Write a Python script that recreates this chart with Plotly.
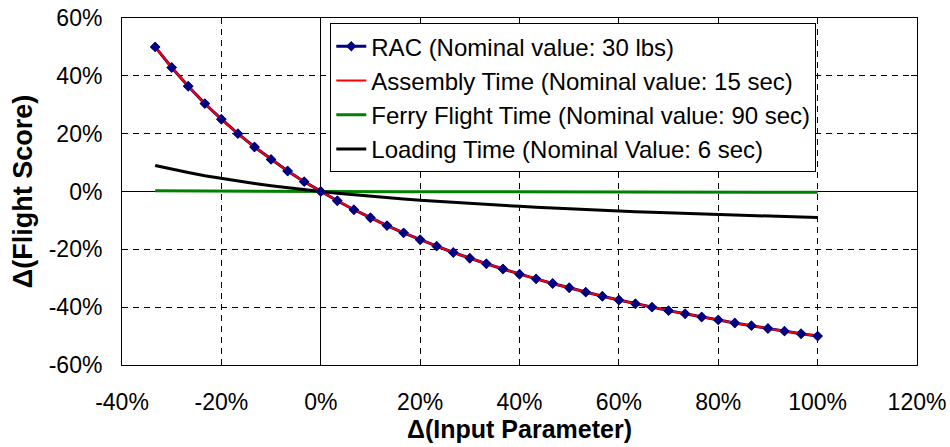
import plotly.graph_objects as go

# Relative change of each input parameter (%)
input_change = [
    -33.33, -30.0, -26.67, -23.33, -20.0, -16.67, -13.33, -10.0, -6.67, -3.33,
    0.0, 3.33, 6.67, 10.0, 13.33, 16.67, 20.0, 23.33, 26.67, 30.0,
    33.33, 36.67, 40.0, 43.33, 46.67, 50.0, 53.33, 56.67, 60.0, 63.33,
    66.67, 70.0, 73.33, 76.67, 80.0, 83.33, 86.67, 90.0, 93.33, 96.67, 100.0,
]

# Resulting change of the flight score (%)
rac = [
    50.0, 42.9, 36.4, 30.4, 25.0, 20.0, 15.4, 11.1, 7.1, 3.4,
    0.0, -3.2, -6.3, -9.1, -11.8, -14.3, -16.7, -18.9, -21.1, -23.1,
    -25.0, -26.8, -28.6, -30.2, -31.8, -33.3, -34.8, -36.2, -37.5, -38.8,
    -40.0, -41.2, -42.3, -43.4, -44.4, -45.5, -46.4, -47.4, -48.3, -49.2, -50.0,
]
assembly_time = [
    50.0, 42.9, 36.4, 30.4, 25.0, 20.0, 15.4, 11.1, 7.1, 3.4,
    0.0, -3.2, -6.3, -9.1, -11.8, -14.3, -16.7, -18.9, -21.1, -23.1,
    -25.0, -26.8, -28.6, -30.2, -31.8, -33.3, -34.8, -36.2, -37.5, -38.8,
    -40.0, -41.2, -42.3, -43.4, -44.4, -45.5, -46.4, -47.4, -48.3, -49.2, -50.0,
]
ferry_flight_time = [
    0.25, 0.21, 0.18, 0.15, 0.13, 0.10, 0.08, 0.06, 0.04, 0.02,
    0.0, -0.02, -0.03, -0.05, -0.06, -0.07, -0.08, -0.09, -0.11, -0.12,
    -0.13, -0.13, -0.14, -0.15, -0.16, -0.17, -0.17, -0.18, -0.19, -0.19,
    -0.20, -0.21, -0.21, -0.22, -0.22, -0.23, -0.23, -0.24, -0.24, -0.25, -0.25,
]
loading_time = [
    9.00, 7.72, 6.55, 5.47, 4.50, 3.60, 2.77, 2.00, 1.28, 0.62,
    0.0, -0.58, -1.13, -1.64, -2.12, -2.57, -3.00, -3.40, -3.80, -4.15,
    -4.50, -4.83, -5.14, -5.44, -5.73, -6.00, -6.26, -6.51, -6.75, -6.98,
    -7.20, -7.41, -7.62, -7.81, -8.00, -8.18, -8.36, -8.53, -8.69, -8.85, -9.00,
]

series_names = [
    "RAC (Nominal value: 30 lbs)",
    "Assembly Time (Nominal value: 15 sec)",
    "Ferry Flight Time (Nominal value: 90 sec)",
    "Loading Time (Nominal Value: 6 sec)",
]

# Axis ticks and their labels (plain hyphen for negatives)
x_ticks = [-40, -20, 0, 20, 40, 60, 80, 100, 120]
x_tick_labels = ["-40%", "-20%", "0%", "20%", "40%", "60%", "80%", "100%", "120%"]
y_ticks = [-60, -40, -20, 0, 20, 40, 60]
y_tick_labels = ["-60%", "-40%", "-20%", "0%", "20%", "40%", "60%"]

NAVY = "#000080"
FONT = "Arial, Liberation Sans, sans-serif"

fig = go.Figure()

fig.add_trace(go.Scatter(
    x=input_change, y=rac, name=series_names[0], mode="lines+markers",
    line=dict(color=NAVY, width=3),
    marker=dict(symbol="diamond", size=8, color=NAVY),
))
fig.add_trace(go.Scatter(
    x=input_change, y=assembly_time, name=series_names[1], mode="lines",
    line=dict(color="#FF0000", width=2),
))
fig.add_trace(go.Scatter(
    x=input_change, y=ferry_flight_time, name=series_names[2], mode="lines",
    line=dict(color="#008000", width=3),
))
fig.add_trace(go.Scatter(
    x=input_change, y=loading_time, name=series_names[3], mode="lines",
    line=dict(color="#000000", width=3),
))
# RAC markers redrawn above the red line
fig.add_trace(go.Scatter(
    x=input_change, y=rac, mode="markers", showlegend=False, hoverinfo="skip",
    marker=dict(symbol="diamond", size=8, color=NAVY),
))

axis_common = dict(
    showline=True, linecolor="black", linewidth=1, mirror="ticks",
    ticks="inside", ticklen=6, tickcolor="black", tickwidth=1,
    showgrid=True, gridcolor="#000000", gridwidth=1, griddash="6px,5px",
    zeroline=True, zerolinecolor="black", zerolinewidth=1,
    automargin=False,
)

fig.update_xaxes(
    range=[-40, 120], tickmode="array", tickvals=x_ticks, ticktext=x_tick_labels,
    tickfont=dict(family=FONT, size=23, color="black"), ticklabelstandoff=16,
    title=dict(text="<b>Δ(Input Parameter)</b>", standoff=4,
               font=dict(family=FONT, size=25, color="black")),
    **axis_common,
)
fig.update_yaxes(
    range=[-60, 60], tickmode="array", tickvals=y_ticks, ticktext=y_tick_labels,
    tickfont=dict(family=FONT, size=23, color="black"), ticklabelstandoff=14,
    title=dict(text="<b>Δ(Flight Score)</b>", standoff=8,
               font=dict(family=FONT, size=27, color="black")),
    **axis_common,
)

fig.update_layout(
    width=950, height=447,
    margin=dict(l=122, r=33, t=18, b=82),
    plot_bgcolor="white", paper_bgcolor="white",
    font=dict(family=FONT, color="black"),
    legend=dict(
        x=0.262, y=0.985, xanchor="left", yanchor="top",
        bgcolor="white", bordercolor="black", borderwidth=1,
        font=dict(family=FONT, size=24, color="black"),
        itemwidth=30, tracegroupgap=0,
    ),
)

fig.write_html("out.html")
